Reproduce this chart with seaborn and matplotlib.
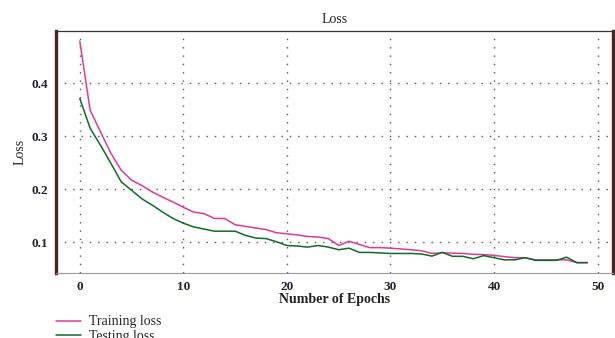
import matplotlib
matplotlib.use("Agg")

import matplotlib.pyplot as plt
import numpy as np
import pandas as pd
import seaborn as sns

# ---- data ----
epochs = list(range(50))
train_loss = [
    0.479, 0.349, 0.308, 0.268, 0.236, 0.217, 0.207, 0.195, 0.185, 0.176,
    0.166, 0.157, 0.154, 0.145, 0.145, 0.133, 0.130, 0.127, 0.124, 0.118,
    0.116, 0.114, 0.111, 0.110, 0.107, 0.094, 0.102, 0.096, 0.090, 0.090,
    0.089, 0.0875, 0.086, 0.084, 0.079, 0.0805, 0.0795, 0.079, 0.0774, 0.077,
    0.0755, 0.073, 0.071, 0.071, 0.067, 0.067, 0.067, 0.067, 0.0617, 0.0617,
]
test_loss = [
    0.371, 0.315, 0.283, 0.249, 0.214, 0.198, 0.182, 0.170, 0.157, 0.145,
    0.136, 0.129, 0.125, 0.121, 0.121, 0.121, 0.113, 0.108, 0.107, 0.101,
    0.094, 0.093, 0.091, 0.094, 0.091, 0.086, 0.089, 0.081, 0.081, 0.080,
    0.079, 0.079, 0.079, 0.078, 0.074, 0.081, 0.0736, 0.0736, 0.069, 0.075,
    0.071, 0.067, 0.067, 0.071, 0.066, 0.066, 0.066, 0.072, 0.0617, 0.0617,
]
x_ticks = [0, 10, 20, 30, 40, 50]
y_ticks = [0.1, 0.2, 0.3, 0.4]

# ---- style ----
COL_TRAIN = "#e23a8f"
COL_TEST = "#0f6a2c"
COL_GRID = "#5a3a3a"
COL_SPINE = "#4a2222"

sns.set_style("white")
plt.rcParams["font.family"] = ["Liberation Serif", "DejaVu Serif"]

df = pd.DataFrame({
    "epoch": epochs * 2,
    "loss": train_loss + test_loss,
    "series": ["Training loss"] * len(epochs) + ["Testing loss"] * len(epochs),
})

fig = plt.figure(figsize=(6.15, 3.38), dpi=100)
ax = fig.add_axes([0.091, 0.192, 0.906, 0.716])

sns.lineplot(
    data=df, x="epoch", y="loss", hue="series",
    palette={"Training loss": COL_TRAIN, "Testing loss": COL_TEST},
    linewidth=1.1, ax=ax,
)

ax.set_xlim(-2.3, 51.5)
ax.set_ylim(0.042, 0.498)
ax.set_xticks(x_ticks)
ax.set_yticks(y_ticks)
ax.set_xticklabels([str(t) for t in x_ticks], fontsize=9.5, fontweight="bold", color="#222233")
ax.set_yticklabels([f"{t:.1f}" for t in y_ticks], fontsize=9.5, fontweight="bold", color="#222233")
ax.tick_params(length=0, pad=6)

ax.grid(True, linestyle=(0, (1, 5)), color=COL_GRID, linewidth=1.0, alpha=0.9)

for side in ["left", "right"]:
    ax.spines[side].set_color(COL_SPINE)
    ax.spines[side].set_linewidth(2.4)
ax.spines["top"].set_color("#333333")
ax.spines["top"].set_linewidth(0.9)
ax.spines["bottom"].set_color("#999999")
ax.spines["bottom"].set_linewidth(0.8)

ax.set_title("Loss", fontsize=10, pad=6, color="#222222")
ax.set_xlabel("Number of Epochs", fontsize=10, fontweight="bold", labelpad=0, color="#222222")
ax.set_ylabel("Loss", fontsize=10, labelpad=3, color="#222222")

ax.legend(
    loc="upper left", bbox_to_anchor=(0.0, -0.175), frameon=False,
    fontsize=10, handlelength=1.8, handletextpad=0.6, labelspacing=0.1,
    borderaxespad=0, borderpad=0,
)

fig.savefig("out.png", dpi=100)
